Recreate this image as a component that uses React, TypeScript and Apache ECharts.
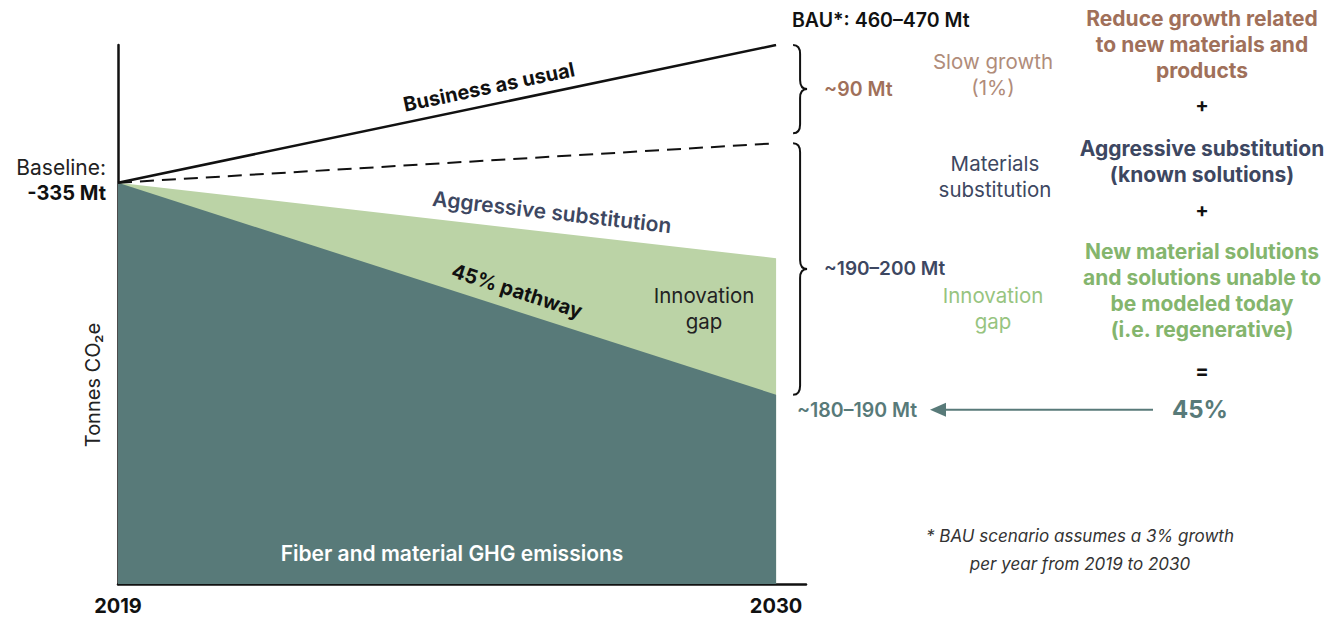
import React, { useEffect, useRef } from "react";
import * as echarts from "echarts";

const years = [2019, 2030];
const bau = [335, 450];
const slowGrowth = [335, 368];
const aggressive = [335, 272];
const pathway = [335, 158];

const FONT = 'Inter, "Noto Sans", sans-serif';
const TEAL = "#587a79";
const LIGHT_GREEN = "#bbd3a6";
const BROWN = "#a0705a";
const BROWN_LIGHT = "#b08c7a";
const SLATE = "#3d4761";
const GREEN_TXT = "#84b56d";
const GREEN_LIGHT = "#97c47f";

function pts(vals: number[]) {
  return years.map((y, i) => [y, vals[i]]);
}

function bracePath(x: number, y1: number, y2: number) {
  const w = 7;
  const r = 9;
  const m = (y1 + y2) / 2;
  return `M ${x} ${y1} Q ${x + w} ${y1} ${x + w} ${y1 + r} L ${x + w} ${m - r} Q ${x + w} ${m} ${x + 2 * w} ${m} Q ${x + w} ${m} ${x + w} ${m + r} L ${x + w} ${y2 - r} Q ${x + w} ${y2} ${x} ${y2}`;
}

function txt(text: string, x: number, y: number, o: any = {}) {
  return {
    type: "text",
    x,
    y,
    z: 100,
    rotation: o.rotation || 0,
    silent: true,
    style: {
      text,
      fill: o.fill || "#111",
      fontSize: o.size || 20,
      fontWeight: o.weight || "normal",
      fontStyle: o.style || "normal",
      fontFamily: FONT,
      align: o.align || "center",
      verticalAlign: "middle",
      lineHeight: o.lh || 26,
    },
  };
}

export default function App() {
  const ref = useRef<HTMLDivElement>(null);
  useEffect(() => {
    if (!ref.current) return;
    const chart = echarts.init(ref.current, undefined, { renderer: "svg" });
    chart.setOption({
      animation: false,
      grid: { left: 118, right: 537, top: 45, bottom: 33 },
      xAxis: {
        type: "value",
        min: 2019,
        max: 2030.5,
        interval: 11,
        axisLine: { show: true, lineStyle: { color: "#111", width: 2.5 } },
        axisTick: { show: false },
        splitLine: { show: false },
        axisLabel: {
          formatter: (v: number) => (v === 2019 || v === 2030 ? String(v) : ""),
          fontFamily: FONT,
          fontWeight: "bold",
          fontSize: 20,
          color: "#111",
          margin: 12,
        },
      },
      yAxis: {
        type: "value",
        min: 0,
        max: 450,
        axisLine: { show: true, lineStyle: { color: "#111", width: 2.5 } },
        axisTick: { show: false },
        splitLine: { show: false },
        axisLabel: { show: false },
      },
      series: [
        {
          name: "Aggressive substitution",
          type: "line",
          data: pts(aggressive),
          symbol: "none",
          lineStyle: { width: 0 },
          areaStyle: { color: LIGHT_GREEN, opacity: 1 },
          z: 1,
        },
        {
          name: "45% pathway",
          type: "line",
          data: pts(pathway),
          symbol: "none",
          lineStyle: { width: 0 },
          areaStyle: { color: TEAL, opacity: 1 },
          z: 2,
        },
        {
          name: "Slow growth",
          type: "line",
          data: pts(slowGrowth),
          symbol: "none",
          lineStyle: { color: "#111", width: 2, type: [14, 8] },
          z: 3,
        },
        {
          name: "Business as usual",
          type: "line",
          data: pts(bau),
          symbol: "none",
          lineStyle: { color: "#111", width: 2.5 },
          z: 4,
        },
      ],
    });

    const px = (x: number, y: number) =>
      chart.convertToPixel({ gridIndex: 0 }, [x, y]) as number[];
    const p0 = px(years[0], bau[0]);
    const pB = px(years[1], bau[1]);
    const pS = px(years[1], slowGrowth[1]);
    const pA = px(years[1], aggressive[1]);
    const pP = px(years[1], pathway[1]);
    const bx = pB[0] + 17;
    echarts.graphic.registerShape(
      "brace1",
      echarts.graphic.extendPath(bracePath(bx, pB[1], pS[1] - 10), {})
    );
    echarts.graphic.registerShape(
      "brace2",
      echarts.graphic.extendPath(bracePath(bx, pS[1], pP[1]), {})
    );
    const ang = (p: number[]) => Math.atan2(p0[1] - p[1], p[0] - p0[0]);
    const arrowY = pP[1] + 15;

    chart.setOption({
      graphic: [
        { type: "brace1", z: 100, silent: true, style: { stroke: "#111", fill: "none", lineWidth: 2 } },
        { type: "brace2", z: 100, silent: true, style: { stroke: "#111", fill: "none", lineWidth: 2 } },
        {
          type: "line",
          z: 100,
          silent: true,
          shape: { x1: 1153, y1: arrowY, x2: 944, y2: arrowY },
          style: { stroke: TEAL, lineWidth: 2 },
        },
        {
          type: "polygon",
          z: 100,
          silent: true,
          shape: { points: [[930, arrowY], [946, arrowY - 7], [946, arrowY + 7]] },
          style: { fill: TEAL },
        },
        txt("Business as usual", 489, 87, { weight: "bold", rotation: ang(pB) }),
        txt("Aggressive substitution", 552, 212, { fill: SLATE, weight: 600, size: 21, rotation: ang(pA) }),
        txt("45% pathway", 517, 291, { weight: "bold", rotation: ang(pP) }),
        txt("Innovation\ngap", 704, 308, { fill: "#222", size: 20.5 }),
        txt("Fiber and material GHG emissions", 452, 553, { fill: "#ffffff", weight: 600, size: 21 }),
        txt("Tonnes CO\u2082e", 93, 385, { fill: "#222", rotation: Math.PI / 2, size: 20 }),
        txt("Baseline:", 106, 167, { align: "right", fill: "#222", size: 21 }),
        txt("-335 Mt", 106, 193, { align: "right", weight: "bold", size: 20 }),
        txt("BAU*: 460\u2013470 Mt", 792, 20, { align: "left", weight: 600, size: 19.5 }),
        txt("~90 Mt", bx + 31, (pB[1] + pS[1] - 10) / 2, { align: "left", fill: BROWN, weight: 600, size: 19.5 }),
        txt("~190\u2013200 Mt", bx + 31, (pS[1] + pP[1]) / 2, { align: "left", fill: SLATE, weight: 600, size: 19 }),
        txt("~180\u2013190 Mt", 797, arrowY, { align: "left", fill: TEAL, weight: 600, size: 19.5 }),
        txt("45%", 1200, arrowY, { fill: TEAL, weight: "bold", size: 24 }),
        txt("Slow growth\n(1%)", 993, 74, { fill: BROWN_LIGHT, size: 20.5 }),
        txt("Materials\nsubstitution", 995, 176, { fill: SLATE, size: 20.5 }),
        txt("Innovation\ngap", 993, 308, { fill: GREEN_LIGHT, size: 20.5 }),
        txt("Reduce growth related\nto new materials and\nproducts", 1202, 44, { fill: BROWN, weight: "bold", size: 21 }),
        txt("+", 1202, 105, { weight: "bold" }),
        txt("Aggressive substitution\n(known solutions)", 1202, 161, { fill: SLATE, weight: "bold", size: 21 }),
        txt("+", 1202, 210, { weight: "bold" }),
        txt(
          "New material solutions\nand solutions unable to\nbe modeled today\n(i.e. regenerative)",
          1202,
          290,
          { fill: GREEN_TXT, weight: "bold", size: 21 }
        ),
        txt("=", 1202, 371, { weight: "bold" }),
        txt("* BAU scenario assumes a 3% growth\nper year from 2019 to 2030", 1080, 550, {
          fill: "#333",
          style: "italic",
          size: 17,
          lh: 28,
        }),
      ],
    });
    return () => chart.dispose();
  }, []);
  return (
    <div
      ref={ref}
      style={{ position: "fixed", left: 0, top: 0, width: 1343, height: 617, background: "#fff" }}
    />
  );
}
